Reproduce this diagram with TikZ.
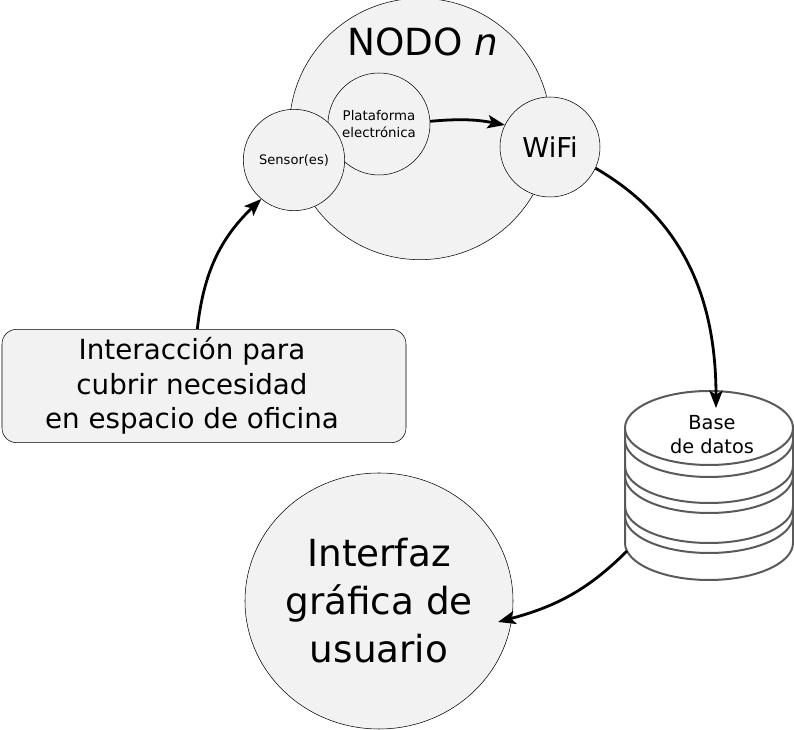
\documentclass[tikz,border=0pt]{standalone}
\usepackage{fontspec}
\setmainfont{DejaVu Sans}
\usetikzlibrary{arrows.meta,shapes.geometric}
\definecolor{gris}{HTML}{F2F2F2}
\definecolor{grisbd}{HTML}{5A5A5A}

\begin{document}
\begin{tikzpicture}[x=0.75pt, y=-0.75pt,
    circ/.style={circle, draw, fill=gris, inner sep=0pt, align=center},
    flecha/.style={-{Stealth[length=13pt, width=10pt, inset=3pt]}, line width=2.1pt}]
  \useasboundingbox (0,0) rectangle (794,730);

  % nodo n
  \node[circ, minimum size=196pt] (nodo) at (420,129) {};
  \node[font=\fontsize{28}{34}\selectfont] (titulo) at (423,42) {NODO \textit{n}};
  \node[circ, minimum size=76.5pt, font=\fontsize{10}{12.5}\selectfont] (plataforma) at (379,124) {Plataforma\\electrónica};
  \node[circ, minimum size=76pt, font=\fontsize{9.8}{12}\selectfont] (sensor) at (294,160) {Sensor(es)};
  \node[circ, minimum size=75pt, font=\fontsize{20.5}{24}\selectfont] (wifi) at (550,147) {WiFi};

  % caja de interaccion
  \node[draw, fill=gris, rounded corners=11pt, minimum width=303pt, minimum height=85pt] (interaccion) at (204,386) {};
  \node[align=center, font=\fontsize{20.8}{26}\selectfont] (textointer) at ([xshift=-9pt]interaccion.center) {Interacción para\\cubrir necesidad\\en espacio de oficina};

  % base de datos
  \begin{scope}[draw=grisbd, line width=1.5pt]
    \fill[white] (625,428) -- (625,543) arc[start angle=180, end angle=360, x radius=63pt, y radius=27.75pt] -- (793,428) -- cycle;
    \draw (625,428) -- (625,543) arc[start angle=180, end angle=360, x radius=63pt, y radius=27.75pt] -- (793,428);
    \foreach \y in {440,466,476,506,516}
      \draw (625,\y) arc[start angle=180, end angle=360, x radius=63pt, y radius=27.75pt];
    \filldraw[fill=white] (709,428) ellipse[x radius=63pt, y radius=27.75pt];
  \end{scope}
  \node[align=center, font=\fontsize{14.5}{18}\selectfont] (bd) at (712,435) {Base\\de datos};
  \coordinate (bdtope) at (716,408);
  \coordinate (bdlado) at (627,551);

  % interfaz
  \node[ellipse, draw, fill=gris, inner sep=0pt, minimum width=201pt, minimum height=192pt, align=center,
        font=\fontsize{28}{36}\selectfont] (interfaz) at (379,601) {Interfaz\\gráfica de\\usuario};

  % flechas
  \draw[flecha] ([xshift=-5pt]interaccion.north) to [bend left=20] (sensor.230);
  \draw[flecha] (plataforma.3) to [bend left=8] (wifi.154);
  \draw[flecha] (wifi.-25) to [out=-30, in=90] (bdtope);
  \draw[flecha] (bdlado) to [out=-135, in=15] ([xshift=-10pt]interfaz.-9);
\end{tikzpicture}
\end{document}
